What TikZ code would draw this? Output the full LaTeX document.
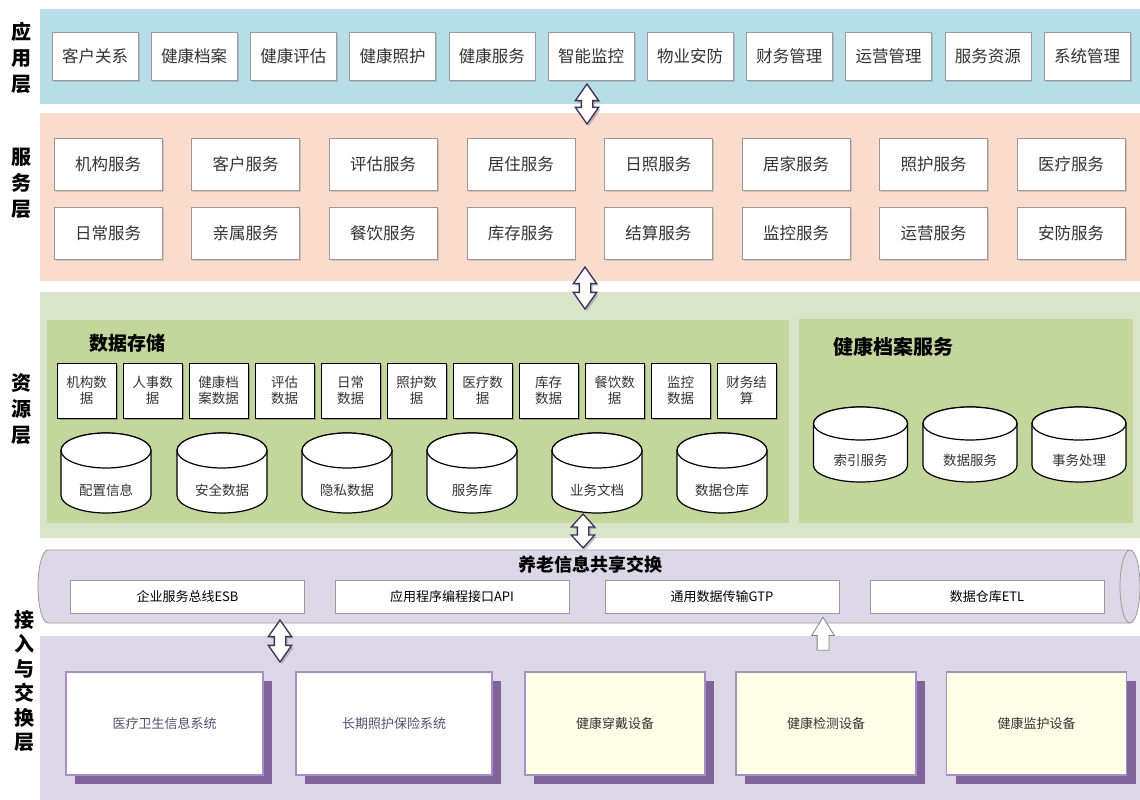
\documentclass[tikz,border=0pt]{standalone}
\usepackage{fontspec}
\setmainfont{Noto Sans CJK SC}
\usetikzlibrary{shapes.arrows,shadows}

\definecolor{appband}{HTML}{B7DDE8}
\definecolor{svcband}{HTML}{F9DCCB}
\definecolor{resband}{HTML}{D9E4C9}
\definecolor{respanel}{HTML}{C3D69B}
\definecolor{accband}{HTML}{DCD7E6}
\definecolor{devfill}{HTML}{FFFFE8}
\definecolor{devedge}{HTML}{A48FC6}
\definecolor{devshade}{HTML}{7F6399}
\definecolor{devtext}{HTML}{5B4B73}
\definecolor{arrowline}{HTML}{3D3056}
\definecolor{boxedge}{HTML}{9A9A9A}
\definecolor{txt}{HTML}{333333}

% database cylinder: centre x, top y, x radius, y radius, height
\newcommand{\dbcyl}[5]{%
  \draw[cylline] ({#1-#3},{#2+#4}) -- ({#1-#3},{#2+#5-#4})
    arc[start angle=180,end angle=360,x radius=#3pt,y radius=#4pt]
    -- ({#1+#3},{#2+#4})
    arc[start angle=0,end angle=180,x radius=#3pt,y radius=#4pt] -- cycle;
  \draw[cylline] (#1,{#2+#4}) ellipse[x radius=#3pt,y radius=#4pt];
}

\tikzset{
  laylabel/.style={font=\bfseries\fontsize{20}{26}\selectfont, align=center, inner sep=0pt},
  grptitle/.style={font=\bfseries\fontsize{19}{22}\selectfont, inner sep=0pt},
  appbox/.style={draw=boxedge, fill=white, text=txt, minimum width=86, minimum height=48,
    font=\fontsize{16.5}{20}\selectfont, inner sep=0pt,
    drop shadow={opacity=.3, shadow xshift=1.5pt, shadow yshift=-1.5pt}},
  svcbox/.style={appbox, minimum width=108, minimum height=52},
  databox/.style={draw=black, line width=1pt, fill=white, text=txt, minimum width=59, minimum height=55,
    font=\fontsize{13.5}{16}\selectfont, align=center, inner sep=0pt,
    drop shadow={opacity=.7, shadow xshift=1.5pt, shadow yshift=-1.5pt}},
  cylline/.style={draw=black, line width=1.2pt, fill=white},
  cyltext/.style={text=txt, font=\fontsize{13.5}{16}\selectfont, inner sep=0pt},
  busline/.style={draw=boxedge, line width=.8pt},
  busbox/.style={draw=boxedge, fill=white, text=black, minimum width=234, minimum height=33,
    font=\fontsize{13}{16}\selectfont, inner sep=0pt},
  devbox/.style={draw=devedge, line width=1.5pt, fill=white, text=devtext, minimum width=197, minimum height=103,
    font=\fontsize{13}{16}\selectfont, inner sep=0pt,
    drop shadow={fill=devshade, opacity=1, shadow xshift=9pt, shadow yshift=-9pt}},
  dblarrow/.style={double arrow, rotate=90, draw=arrowline, line width=1.3pt, fill=white,
    minimum width=22, double arrow head extend=6pt, double arrow tip angle=70,
    inner xsep=0pt, inner ysep=5pt,
    drop shadow={opacity=.45, shadow xshift=2pt, shadow yshift=-2pt}},
  uparrow/.style={single arrow, rotate=90, draw=gray, line width=.8pt, fill=white,
    minimum width=22, single arrow head extend=5.5pt, single arrow tip angle=64,
    inner xsep=0pt, inner ysep=5.5pt}
}

\begin{document}
\begin{tikzpicture}[x=1pt,y=-1pt]
\useasboundingbox (0,0) rectangle (1140,800);

% layer bands
\fill[appband] (40,9) rectangle (1140,104);
\fill[svcband] (40,113) rectangle (1140,281);
\fill[resband] (40,292) rectangle (1140,538);
\fill[respanel] (47,320) rectangle (789,523);
\fill[respanel] (799,319) rectangle (1133,523);
\fill[accband] (40,636) rectangle (1140,800);

% layer names
\node[laylabel] (lapp) at (21,58) {应\\用\\层};
\node[laylabel] (lsvc) at (21,183) {服\\务\\层};
\node[laylabel] (lres) at (21,409) {资\\源\\层};
\node[laylabel, font=\bfseries\fontsize{20}{24.5}\selectfont] (lacc) at (24,681) {接\\入\\与\\交\\换\\层};

% application layer
\foreach \t [count=\i from 0] in {客户关系,健康档案,健康评估,健康照护,健康服务,智能监控,物业安防,财务管理,运营管理,服务资源,系统管理}
  \node[appbox] (app\i) at (95+99.2*\i,56) {\t};

% service layer
\foreach \t [count=\i from 0] in {机构服务,客户服务,评估服务,居住服务,日照服务,居家服务,照护服务,医疗服务}
  \node[svcbox] (sa\i) at (108+137.6*\i,164) {\t};
\foreach \t [count=\i from 0] in {日常服务,亲属服务,餐饮服务,库存服务,结算服务,监控服务,运营服务,安防服务}
  \node[svcbox] (sb\i) at (108+137.6*\i,233) {\t};

% resource layer
\node[grptitle] (store) at (127,343) {数据存储};
\node[grptitle, font=\bfseries\fontsize{20}{22}\selectfont] (record) at (893,347) {健康档案服务};
\foreach \t [count=\i from 0] in {机构数\\据,人事数\\据,健康档\\案数据,评估\\数据,日常\\数据,照护数\\据,医疗数\\据,库存\\数据,餐饮数\\据,监控\\数据,财务结\\算}
  \node[databox] (d\i) at (86.5+66*\i,390.5) {\t};
\foreach \x/\t [count=\i] in {106/配置信息,222/安全数据,347/隐私数据,472/服务库,597/业务文档,722/数据仓库} {
  \dbcyl{\x}{433}{45}{17.5}{80}
  \node[cyltext] (cyt\i) at (\x,490) {\t};
}
\foreach \x/\t [count=\i] in {860.5/索引服务,970/数据服务,1079/事务处理} {
  \dbcyl{\x}{407}{47}{16.5}{75}
  \node[cyltext] (crt\i) at (\x,460) {\t};
}

% exchange bus
\fill[accband] (48,550) -- (1130,550)
  arc[start angle=90,end angle=-90,x radius=10pt,y radius=36.5pt]
  -- (48,623) arc[start angle=270,end angle=90,x radius=10pt,y radius=36.5pt] -- cycle;
\draw[busline] (48,550) -- (1130,550)
  arc[start angle=90,end angle=-90,x radius=10pt,y radius=36.5pt]
  -- (48,623) arc[start angle=270,end angle=90,x radius=10pt,y radius=36.5pt] -- cycle;
\draw[busline] (1130,550) arc[start angle=90,end angle=270,x radius=10pt,y radius=36.5pt];
\node[grptitle, font=\bfseries\fontsize{18}{22}\selectfont] (bustitle) at (590,565) {养老信息共享交换};
\node[busbox] (esb) at (187.5,596.5) {企业服务总线ESB};
\node[busbox] (api) at (452,596.5) {应用程序编程接口API};
\node[busbox] (gtp) at (722,596.5) {通用数据传输GTP};
\node[busbox] (etl) at (987,596.5) {数据仓库ETL};

% access devices
\node[devbox] (his) at (164.5,723.5) {医疗卫生信息系统};
\node[devbox, minimum width=196] (ltc) at (394,723.5) {长期照护保险系统};
\node[devbox, fill=devfill, text=txt, minimum width=180] (wear) at (615,723.5) {健康穿戴设备};
\node[devbox, fill=devfill, text=txt, minimum width=180] (check) at (826,723.5) {健康检测设备};
\node[devbox, fill=devfill, text=txt, minimum width=180] (watch) at (1036.5,723.5) {健康监护设备};

% block arrows between layers
\node[dblarrow, minimum height=40] (a1) at (587,104) {};
\node[dblarrow, minimum height=42] (a2) at (585,288) {};
\node[dblarrow, minimum height=34, double arrow tip angle=84] (a3) at (583,531) {};
\node[dblarrow, minimum height=42] (a4) at (280,641) {};
\node[uparrow, minimum height=33] (a5) at (823,638.5) {};
\end{tikzpicture}
\end{document}
